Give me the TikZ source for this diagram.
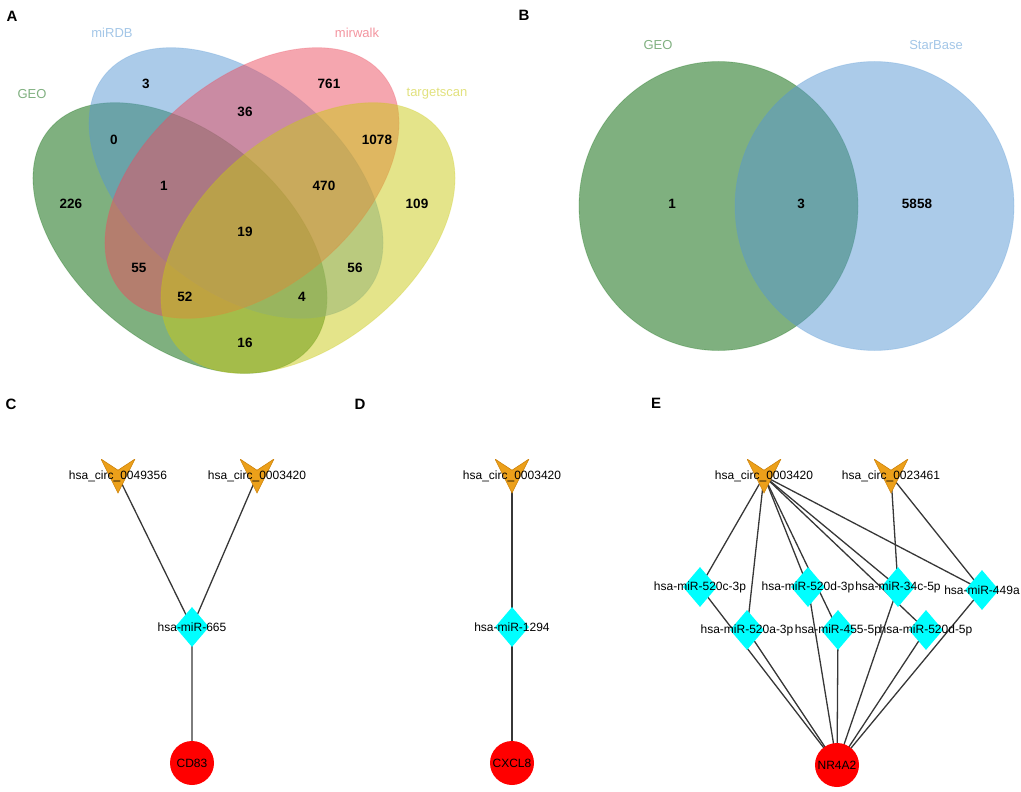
\documentclass[tikz,border=0pt]{standalone}
\usepackage{fontspec}
\setmainfont{Liberation Sans}
\usetikzlibrary{shapes.geometric, calc}
\pgfdeclarelayer{background}
\pgfsetlayers{background,main}

\definecolor{geoC}{RGB}{0,98,0}
\definecolor{mirdbC}{RGB}{87,151,211}
\definecolor{mirwalkC}{RGB}{235,77,95}
\definecolor{tscanC}{RGB}{201,201,21}
\definecolor{circC}{RGB}{236,160,26}
\definecolor{circD}{RGB}{205,130,10}
\definecolor{mirC}{RGB}{0,255,255}
\definecolor{geneC}{RGB}{255,0,0}
\definecolor{edgeC}{RGB}{55,55,55}

\begin{document}
\begin{tikzpicture}[x=1pt, y=-1pt,
    panel/.style={font=\fontsize{15}{17}\selectfont\bfseries, inner sep=0pt},
    num/.style={font=\fontsize{13.5}{15}\selectfont\bfseries, inner sep=0pt},
    setname/.style={font=\fontsize{13}{15}\selectfont, inner sep=0pt},
    lbltext/.style={font=\fontsize{12}{14}\selectfont, inner sep=0pt},
    venn/.style={fill opacity=0.5, draw opacity=0.25, line width=0.8pt},
    circnode/.style={rectangle, inner sep=0pt, minimum width=34pt, minimum height=34pt,
        path picture={\fill[circC, draw=circD, line width=0.6pt]
            (path picture bounding box.north west)
            -- ($(path picture bounding box.north)!0.33!(path picture bounding box.south)$)
            -- (path picture bounding box.north east)
            -- (path picture bounding box.south) -- cycle;}},
    mirnode/.style={diamond, fill=mirC, inner sep=0pt, minimum width=34pt, minimum height=40pt},
    genenode/.style={circle, fill=geneC, inner sep=0pt, minimum size=44pt,
        font=\fontsize{12}{14}\selectfont},
    edge/.style={draw=edgeC, line width=1.3pt}]

    \useasboundingbox (0,0) rectangle (1021,792);

    % A: four sets
    \draw[venn, fill=geoC, draw=geoC, rotate around={-39.7:(180,238)}] (180,238) ellipse [x radius=170, y radius=105];
    \draw[venn, fill=mirdbC, draw=mirdbC, rotate around={-39.7:(236,183)}] (236,183) ellipse [x radius=170, y radius=105];
    \draw[venn, fill=mirwalkC, draw=mirwalkC, rotate around={39.7:(252,183)}] (252,183) ellipse [x radius=170, y radius=105];
    \draw[venn, fill=tscanC, draw=tscanC, rotate around={39.7:(308,238)}] (308,238) ellipse [x radius=170, y radius=105];

    \node[panel] (pa) at (12,16) {A};
    \node[setname, text=geoC!50] (sgeo) at (32,94) {GEO};
    \node[setname, text=mirdbC!55] (smirdb) at (112,33) {miRDB};
    \node[setname, text=mirwalkC!60] (smirwalk) at (357,33) {mirwalk};
    \node[setname, text=tscanC!55] (stscan) at (437,94) {targetscan};

    \node[num] (a3) at (146,84) {3};
    \node[num] (a761) at (329,84) {761};
    \node[num] (a36) at (245,112) {36};
    \node[num] (a0) at (114,140) {0};
    \node[num] (a1078) at (377,140) {1078};
    \node[num] (a1) at (164,186) {1};
    \node[num] (a470) at (324,186) {470};
    \node[num] (a226) at (71,204) {226};
    \node[num] (a109) at (417,204) {109};
    \node[num] (a19) at (245,232) {19};
    \node[num] (a55) at (139,268) {55};
    \node[num] (a56) at (355,268) {56};
    \node[num] (a52) at (185,297) {52};
    \node[num] (a4) at (302,297) {4};
    \node[num] (a16) at (245,343) {16};

    % B: two sets
    \draw[venn, fill=geoC, draw=geoC] (718.5,206) ellipse [x radius=139.5, y radius=144.5];
    \draw[venn, fill=mirdbC, draw=mirdbC] (874.5,206) ellipse [x radius=139.5, y radius=144.5];

    \node[panel] (pb) at (524,15) {B};
    \node[setname, text=geoC!50] (bgeo) at (658,45) {GEO};
    \node[setname, text=mirdbC!55] (bstar) at (936,45) {StarBase};
    \node[num] (b1) at (672,204) {1};
    \node[num] (b3) at (801,204) {3};
    \node[num] (b5858) at (917,204) {5858};

    % C, D, E: networks
    \node[panel] (pc) at (11,404) {C};
    \node[panel] (pd) at (360,404) {D};
    \node[panel] (pe) at (656,403) {E};

    \node[circnode, label={[lbltext]center:hsa\_circ\_0049356}] (c49356) at (118,476) {};
    \node[circnode, label={[lbltext]center:hsa\_circ\_0003420}] (c3420a) at (257,476) {};
    \node[mirnode, label={[lbltext]center:hsa-miR-665}] (m665) at (192,627) {};
    \node[genenode] (cd83) at (192,763) {CD83};

    \node[circnode, label={[lbltext]center:hsa\_circ\_0003420}] (c3420b) at (512,476) {};
    \node[mirnode, label={[lbltext]center:hsa-miR-1294}] (m1294) at (512,627) {};
    \node[genenode] (cxcl8) at (512,763) {CXCL8};

    \node[circnode, label={[lbltext]center:hsa\_circ\_0003420}] (c3420c) at (764,476) {};
    \node[circnode, label={[lbltext]center:hsa\_circ\_0023461}] (c23461) at (891,476) {};
    \node[mirnode, label={[lbltext]center:hsa-miR-520c-3p}] (m520c) at (700,587) {};
    \node[mirnode, label={[lbltext]center:hsa-miR-520d-3p}] (m520d) at (808,587) {};
    \node[mirnode, label={[lbltext]center:hsa-miR-34c-5p}] (m34c) at (898,587) {};
    \node[mirnode, label={[lbltext]center:hsa-miR-449a}] (m449a) at (982,590) {};
    \node[mirnode, label={[lbltext]center:hsa-miR-520a-3p}] (m520a) at (747,630) {};
    \node[mirnode, label={[lbltext]center:hsa-miR-455-5p}] (m455) at (838,630) {};
    \node[mirnode, label={[lbltext]center:hsa-miR-520d-5p}] (m520d5) at (926,630) {};
    \node[genenode] (nr4a2) at (837,765) {NR4A2};

    \begin{pgfonlayer}{background}
        \draw[edge] (c49356.center) -- (m665.center);
        \draw[edge] (c3420a.center) -- (m665.center) -- (cd83.center);
        \draw[edge] (c3420b.center) -- (m1294.center) -- (cxcl8.center);
        \foreach \m in {m520c, m520a, m520d, m455, m34c, m520d5, m449a} {
            \draw[edge] (c3420c.center) -- (\m.center);
            \draw[edge] (\m.center) -- (nr4a2.center);
        }
        \draw[edge] (c23461.center) -- (m34c.center);
        \draw[edge] (c23461.center) -- (m449a.center);
    \end{pgfonlayer}
\end{tikzpicture}
\end{document}
